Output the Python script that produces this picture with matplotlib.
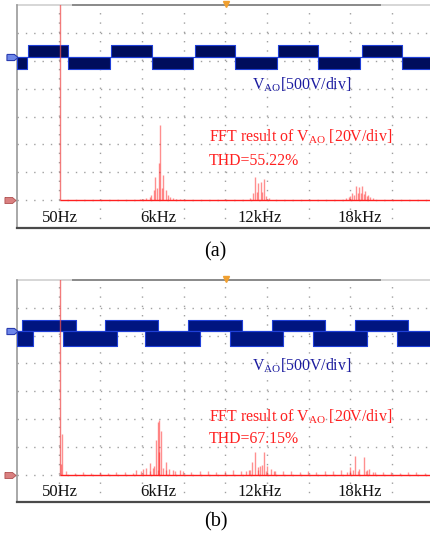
import numpy as np
import matplotlib.pyplot as plt
from matplotlib.path import Path
from matplotlib.transforms import blended_transform_factory

plt.rcParams['font.family'] = ['Liberation Serif', 'DejaVu Serif']
plt.rcParams['mathtext.fontset'] = 'custom'
plt.rcParams['mathtext.rm'] = 'Liberation Serif'
plt.rcParams['mathtext.it'] = 'Liberation Serif:italic'

# ---- data read off the scope shots ----
# time axis 10 ms/div, voltage 500 V/div, 0 V = centre of the blue trace
a_high = [(2.6, 12.3), (22.6, 32.3), (42.6, 52.3), (62.6, 72.3), (82.7, 92.3)]
a_low = [(0, 2.4), (12.3, 22.3), (32.3, 42.3), (52.3, 62.3), (72.3, 82.3), (92.3, 100)]
a_levels = (210, -215)

b_high = [(1.1, 14.2), (21.1, 33.9), (41.1, 53.9), (61.1, 73.9), (81.1, 93.9)]
b_low = [(0, 3.9), (11.1, 23.9), (30.7, 43.9), (51.1, 63.9), (71.1, 83.9), (91.1, 100)]
b_levels = (210, -265)

# FFT: 2.5 kHz/div, 20 V/div
fund_khz = 0.05

a_fft_khz = [4.8, 5.0, 5.2, 5.4, 5.5, 5.64, 5.73, 5.85, 5.97, 6.03, 6.12, 6.21, 6.4, 6.5, 6.6, 6.8, 7.0, 7.2,
             11.45, 11.6, 11.73, 11.85, 11.93, 12.09, 12.17, 12.27, 12.4, 12.55,
             17.2, 17.35, 17.45, 17.53, 17.65, 17.79, 17.9, 17.99, 18.08, 18.17, 18.25, 18.33, 18.43, 18.53,
             18.65, 18.8]
a_fft_v = [0.6, 1.0, 1.5, 2.5, 4.0, 7.0, 16.8, 9.0, 26.8, 53.8, 9.0, 18.0, 7.0, 4.0, 2.5, 1.5, 1.0, 0.6,
           1.5, 5.0, 16.5, 6.0, 12.5, 13.0, 6.0, 15.5, 3.0, 1.2,
           1.5, 2.5, 3.0, 5.2, 4.0, 10.0, 5.0, 9.6, 5.0, 10.0, 4.5, 6.6, 3.0, 3.6,
           2.0, 1.5]

b_fft_khz = [0.1, 0.13,
             4.6, 5.0, 5.2, 5.43, 5.6, 5.69, 5.79, 5.89, 5.99, 5.99, 6.09, 6.2, 6.37, 6.55, 6.8, 7.2,
             11.2, 11.37, 11.57, 11.73, 11.93, 12.03, 12.13, 12.29, 12.47, 12.67, 12.85,
             17.25, 17.43, 17.6, 17.73, 17.99, 18.29, 18.45, 18.59, 18.8]
b_fft_v = [7.6, 29.0,
           3.0, 4.0, 5.0, 8.0, 4.5, 6.0, 25.0, 37.6, 39.4, 16.0, 31.6, 5.0, 8.8, 4.0, 3.5, 3.0,
           2.5, 3.5, 8.8, 16.0, 5.2, 6.4, 7.0, 16.5, 6.4, 4.0, 2.5,
           2.0, 5.2, 3.0, 13.0, 4.0, 12.5, 3.5, 4.0, 2.0]

# broadband floor in (b), one bin every 0.5 kHz from 0.4 kHz
b_floor_khz = np.arange(0.4, 22.4, 0.5)
b_floor_v = [2.4, 1.2, 1.5, 1.0, 1.8, 1.3, 1.6, 2.0, 1.4, 2.2, 2.6, 3.2,
             3.6, 2.8, 2.4, 2.0, 2.2, 2.6, 2.0, 2.4, 3.0, 2.6, 3.4, 3.0,
             2.6, 2.2, 2.8, 2.4, 2.0, 2.2, 1.8, 2.4, 2.6, 3.0, 2.4, 2.8,
             2.2, 1.8, 1.6, 2.0, 1.4, 1.8, 1.6, 1.2]

freq_labels = ['50Hz', '6kHz', '12kHz', '18kHz']
freq_label_khz = [0.05, 5.94, 12.0, 18.0]

W, H = 431, 536
fig = plt.figure(figsize=(W / 100, H / 100), dpi=100)

NAVY = '#000d5c'
EDGE = '#1f3fd8'
RED = '#ff2020'

home = Path([(-1, 0.55), (0.35, 0.55), (1, 0), (0.35, -0.55), (-1, -0.55), (-1, 0.55)])


def panel(top_px, bot_px, high, low, levels, fft_khz, fft_v, thd, txt_pos, floor=None, fill=NAVY):
    left = 17 / W
    width = 416.7 / W
    rect = [left, 1 - bot_px / H, width, (bot_px - top_px) / H]

    # graticule
    g = fig.add_axes(rect)
    g.set_xlim(0, 10)
    g.set_ylim(0, 8)
    for x in range(1, 10):
        g.axvline(x, color='#a0a0a0', lw=1.0, ls=(0, (1, 5.7)), zorder=0)
    for y in range(1, 8):
        g.axhline(y, color='#a0a0a0', lw=1.0, ls=(0, (1, 5)), zorder=0)
    g.set_xticks([])
    g.set_yticks([])
    for s in ['top', 'right']:
        g.spines[s].set_visible(False)
    g.spines['left'].set_color('#9a9a9a')
    g.spines['left'].set_linewidth(1.2)
    g.spines['bottom'].set_color('#4a4a4a')
    g.spines['bottom'].set_linewidth(1.6)
    g.axhline(8, color='#cfcfcf', lw=1.2, clip_on=False)
    g.plot([1.34, 8.71], [8, 8], color='#8a8a8a', lw=1.4, clip_on=False)
    g.plot([5.02], [8.02], marker='v', ms=5, color='#f0a030', clip_on=False)

    # time trace
    t = fig.add_axes(rect, frameon=False)
    cen = 6.15
    t.set_xlim(0, 100)
    t.set_ylim(-cen * 500, (8 - cen) * 500)
    t.axis('off')
    for t0, t1 in high:
        t.fill_between([t0, t1], 0, levels[0], facecolor=fill, edgecolor=EDGE, lw=0.8)
    for t0, t1 in low:
        t.fill_between([t0, t1], levels[1], 0, facecolor=fill, edgecolor=EDGE, lw=0.8)
    t.axhline(0, color=EDGE, lw=0.8)
    t.plot([-1.3], [0], marker=home, ms=8, mfc='#6d86e8', mec='#2a3cb0', mew=0.8, clip_on=False)

    # FFT trace
    f = fig.add_axes(rect, frameon=False)
    f.set_xlim(-2.55, 22.45)
    f.set_ylim(-20, 140)
    f.axis('off')
    f.vlines(fund_khz, 0, 1000, color='#f05050', lw=1.0, alpha=0.75)
    f.hlines(0, fund_khz, 23, color=RED, lw=1.0)
    if floor is not None:
        f.vlines(floor[0], 0, floor[1], color=RED, lw=1.0, alpha=0.45)
    f.vlines(fft_khz, 0, fft_v, color=RED, lw=1.0, alpha=0.5)
    f.plot([-2.95], [0], marker=home, ms=8, mfc='#d98080', mec='#b05050',
           mew=0.6, clip_on=False)

    tr = blended_transform_factory(f.transData, f.transAxes)
    for lab, x in zip(freq_labels, freq_label_khz):
        f.text(x, txt_pos[3], lab, transform=tr, ha='center', va='center', fontsize=12, color='#111111')

    f.text(0.563, txt_pos[0], r'V$_{\mathrm{AO}}$[500V/div]', transform=f.transAxes,
           ha='left', va='center', fontsize=11.4, color='#1c1ca0')
    f.text(0.461, txt_pos[1], r'FFT result of V$_{\mathrm{AO}}$ [20V/div]', transform=f.transAxes,
           ha='left', va='center', fontsize=11.4, color=RED)
    f.text(0.461, txt_pos[2], 'THD=' + thd, transform=f.transAxes,
           ha='left', va='center', fontsize=11.4, color=RED)


panel(5, 228, a_high, a_low, a_levels, a_fft_khz, a_fft_v, '55.22%', (0.641, 0.408, 0.30, 0.045))
panel(280, 502.3, b_high, b_low, b_levels, b_fft_khz, b_fft_v, '67.15%', (0.614, 0.385, 0.285, 0.048),
      floor=(b_floor_khz, b_floor_v), fill='#001580')

fig.text(215.5 / W, 1 - 252 / H, '(a)', ha='center', va='center', fontsize=14.5)
fig.text(215.5 / W, 1 - 522 / H, '(b)', ha='center', va='center', fontsize=14.5)

fig.savefig('out.png', dpi=100)
